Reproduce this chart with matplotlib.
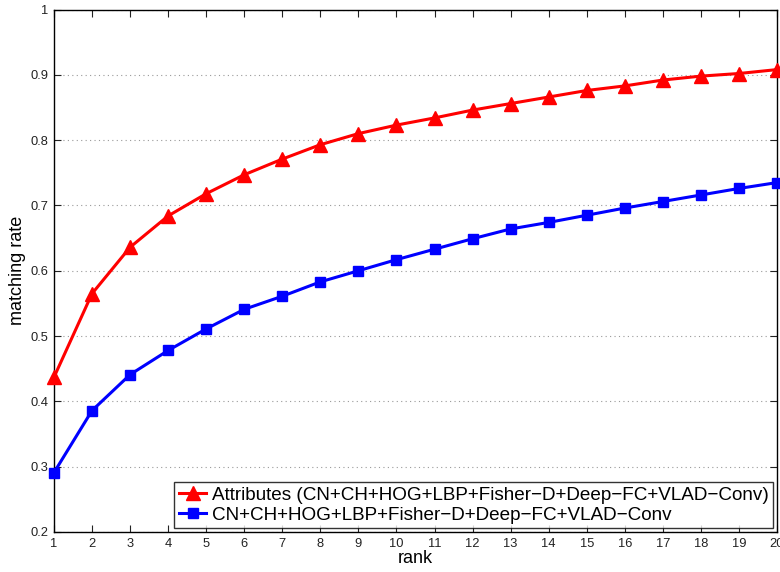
import matplotlib
matplotlib.use("Agg")
import matplotlib.pyplot as plt

ranks = list(range(1, 21))
attributes = [0.437, 0.565, 0.636, 0.684, 0.718, 0.747, 0.771, 0.793, 0.810, 0.823,
              0.834, 0.846, 0.856, 0.866, 0.876, 0.883, 0.892, 0.898, 0.902, 0.908]
baseline = [0.291, 0.386, 0.441, 0.478, 0.511, 0.541, 0.561, 0.583, 0.600, 0.617,
            0.633, 0.649, 0.664, 0.674, 0.685, 0.696, 0.706, 0.716, 0.726, 0.735]
label_attr = "Attributes (CN+CH+HOG+LBP+Fisher\u2212D+Deep\u2212FC+VLAD\u2212Conv)"
label_base = "CN+CH+HOG+LBP+Fisher\u2212D+Deep\u2212FC+VLAD\u2212Conv"
yticks = [0.2, 0.3, 0.4, 0.5, 0.6, 0.7, 0.8, 0.9, 1.0]
yticklabels = ["0.2", "0.3", "0.4", "0.5", "0.6", "0.7", "0.8", "0.9", "1"]

plt.rcParams['font.family'] = ['Liberation Sans', 'DejaVu Sans']

fig = plt.figure(figsize=(7.8, 5.72), dpi=100)
ax = fig.add_axes([54/780, 40/572, (777-54)/780, (532-9.5)/572])

ax.plot(ranks, attributes, color='#ff0000', lw=2.2, marker='^', markersize=10,
        label=label_attr, clip_on=False, zorder=3)
ax.plot(ranks, baseline, color='#0000ff', lw=2.2, marker='s', markersize=7,
        label=label_base, clip_on=False, zorder=3)

ax.set_xlim(1, 20)
ax.set_ylim(0.2, 1.0)
ax.set_xticks(ranks)
ax.set_yticks(yticks)
ax.set_yticklabels(yticklabels)
ax.tick_params(direction='in', top=True, right=True, labelsize=9.3, length=5,
               width=0.8, colors='#222222', pad=4)
ax.grid(axis='y', linestyle=(0, (1, 3)), color='#999999', lw=0.8)
for s in ax.spines.values():
    s.set_linewidth(1.0)
ax.set_xlabel('rank', fontsize=13, labelpad=0)
ax.set_ylabel('matching rate', fontsize=13, labelpad=3)

leg = ax.legend(loc='lower right', fontsize=13.6, frameon=True, fancybox=False,
                edgecolor='black', borderpad=0.25, labelspacing=0.12,
                handlelength=1.45, handletextpad=0.28, borderaxespad=0.2)
leg.get_frame().set_linewidth(1.0)

fig.savefig('out.png', dpi=100)
